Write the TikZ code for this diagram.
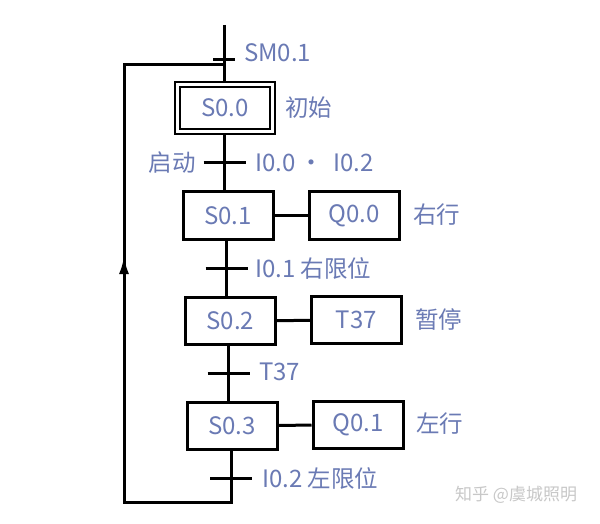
\documentclass[tikz,border=0pt]{standalone}
\usepackage{fontspec}
\setmainfont{Noto Sans CJK SC}
\usetikzlibrary{arrows.meta}
\definecolor{txt}{HTML}{6A7AB4}
\definecolor{wm}{HTML}{C8C8C8}
\newcommand{\cjt}[1]{{\fontsize{23.5}{27}\selectfont #1}}
\begin{document}
\begin{tikzpicture}[x=1pt,y=-1pt,
  stepbox/.style={draw,line width=3pt,minimum width=90pt,minimum height=47pt,inner sep=0pt,text=txt,font=\fontsize{24}{28}\selectfont},
  actbox/.style={stepbox},
  lbl/.style={text=txt,font=\fontsize{24}{28}\selectfont,inner sep=0pt},
  ln/.style={line width=3pt},
  tick/.style={line width=3pt}]
\useasboundingbox (0,0) rectangle (600,524);
\fill[white] (0,0) rectangle (600,524);
% initial step
\node[draw,line width=2.8pt,minimum width=100pt,minimum height=52pt,inner sep=0pt] (s0o) at (225,108) {};
\node[draw,line width=2.8pt,minimum width=90pt,minimum height=42pt,inner sep=0pt,text=txt,font=\fontsize{24}{28}\selectfont] (s0) at (225,108) {S0.0};
% steps
\node[stepbox] (s1) at (228,215.5) {S0.1};
\node[stepbox] (s2) at (230.5,321) {S0.2};
\node[stepbox] (s3) at (232,425.5) {S0.3};
% actions
\node[actbox] (a1) at (354,215.5) {Q0.0};
\node[actbox] (a2) at (356.5,320) {T37};
\node[actbox] (a3) at (358,425) {Q0.1};
% transition coordinates
\coordinate (top) at (224,25);
\coordinate (t0) at (224,60);
\coordinate (j0) at (224,65);
\coordinate (t1) at (224.5,163);
\coordinate (t2) at (226.5,268);
\coordinate (t3) at (228.5,373);
\coordinate (t4) at (231,478);
\coordinate (bot) at (231,502);
\coordinate (bl) at (124,502);
\coordinate (tl) at (124,65);
\coordinate (ar) at (124,256);
% main line
\draw[ln] (top) -- (s0o.north -| top);
\draw[ln] (s0o.south -| t1) -- (s1.north -| t1);
\draw[ln] (s1.south -| t2) -- (s2.north -| t2);
\draw[ln] (s2.south -| t3) -- (s3.north -| t3);
\draw[ln] (s3.south -| t4) -- (bot) -- (bl) -- (tl) -- (j0);
\draw[line width=3pt,-{Latex[length=18pt,width=10pt]}] (124,290) -- (ar);
% action links
\draw[ln] (s1) -- (a1);
\draw[ln] (s2) -- (a2);
\draw[ln] (s3) -- (a3);
% transition ticks
\draw[tick] ([xshift=-11pt]t0) -- ([xshift=11pt]t0);
\draw[tick] ([xshift=-21pt]t1) -- ([xshift=21pt]t1);
\draw[tick] ([xshift=-21pt]t2) -- ([xshift=21pt]t2);
\draw[tick] ([xshift=-21pt]t3) -- ([xshift=21pt]t3);
\draw[tick] ([xshift=-21pt]t4) -- ([xshift=21pt]t4);
% labels
\node[lbl,anchor=west] (l0) at (244,53) {SM0.1};
\node[lbl,anchor=west] (c0) at (285,108) {\cjt{初始}};
\node[lbl,anchor=east] (l1a) at (196,163) {\cjt{启动}};
\node[lbl,anchor=west] (l1) at (255,163) {I0.0\hspace{4pt}·\hspace{10pt}I0.2};
\node[lbl,anchor=west] (l2) at (255,268) {I0.1 \cjt{右限位}};
\node[lbl,anchor=west] (l3) at (259,372) {T37};
\node[lbl,anchor=west] (l4) at (262,478) {I0.2 \cjt{左限位}};
\node[lbl,anchor=west] (c1) at (413,215) {\cjt{右行}};
\node[lbl,anchor=west] (c2) at (415,320) {\cjt{暂停}};
\node[lbl,anchor=west] (c3) at (416,424) {\cjt{左行}};
\node[text=wm,font=\fontsize{17}{20}\selectfont,anchor=west,inner sep=0pt] (wmk) at (455,495) {知乎 @虞城照明};
\end{tikzpicture}
\end{document}
